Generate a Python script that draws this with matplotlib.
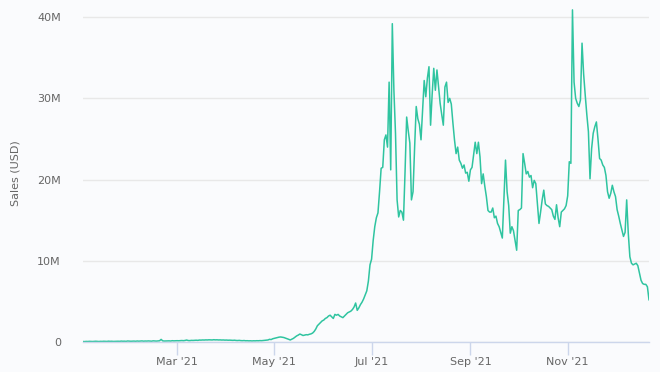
import matplotlib
matplotlib.use("Agg")
import matplotlib.pyplot as plt
import matplotlib.dates as mdates
import matplotlib.ticker as mticker
import pandas as pd
import numpy as np

# Daily sales in millions USD, 2021-01-01 .. 2021-12-22
jan = [0.06,0.05,0.07,0.06,0.08,0.07,0.06,0.08,0.09,0.07,0.06,0.08,0.07,0.09,0.08,0.07,
       0.1,0.08,0.09,0.07,0.08,0.1,0.09,0.08,0.11,0.09,0.1,0.08,0.12,0.1,0.09]
feb = [0.1,0.11,0.09,0.12,0.1,0.11,0.13,0.1,0.12,0.11,0.13,0.12,0.1,0.14,0.12,0.11,0.13,
       0.15,0.32,0.14,0.12,0.13,0.15,0.14,0.12,0.16,0.14,0.15]
mar = [0.16,0.15,0.17,0.18,0.16,0.19,0.24,0.18,0.17,0.2,0.19,0.21,0.22,0.2,0.24,0.23,0.25,
       0.24,0.26,0.25,0.27,0.26,0.25,0.28,0.26,0.27,0.25,0.26,0.24,0.25,0.23]
apr = [0.24,0.22,0.23,0.21,0.2,0.22,0.19,0.18,0.2,0.17,0.16,0.18,0.15,0.16,0.14,0.15,0.13,
       0.15,0.14,0.16,0.15,0.17,0.16,0.18,0.2,0.22,0.25,0.33,0.3,0.4]
may = [0.45,0.5,0.55,0.6,0.62,0.58,0.55,0.48,0.4,0.33,0.25,0.35,0.45,0.6,0.75,0.85,0.98,
       0.9,0.8,0.85,0.9,0.88,0.95,1.0,1.1,1.3,1.6,2.0,2.2,2.4,2.6]
jun = [2.7,2.9,3.0,3.2,3.3,3.1,2.9,3.4,3.3,3.4,3.2,3.1,3.0,3.2,3.4,3.6,3.7,3.8,4.0,4.3,
       4.8,3.9,4.2,4.6,4.9,5.3,5.8,6.3,7.5,9.5]
jul = [10.2,12.5,14.2,15.3,15.9,18.5,21.4,21.5,24.9,25.5,24.0,32.0,21.2,39.2,31.0,25.7,
       17.5,15.4,16.2,16.0,15.0,21.0,27.7,26.0,24.5,17.5,18.5,24.0,29.0,27.5,26.8]
aug = [24.9,28.5,32.2,30.2,32.5,33.9,26.7,30.5,33.7,31.0,33.5,31.5,29.4,28.0,26.7,31.4,
       32.0,29.5,30.0,29.3,27.0,24.9,23.2,24.0,22.4,22.0,21.4,21.8,20.8,20.9,19.8]
sep = [21.2,21.5,23.0,24.6,23.2,24.6,22.8,19.5,20.7,19.2,17.9,16.2,16.0,16.0,16.5,15.3,
       15.5,14.6,14.2,13.5,12.8,17.5,22.4,18.5,16.8,13.4,14.2,13.7,12.5,11.3]
oct_ = [16.2,16.3,16.5,23.2,22.0,20.7,21.0,20.3,20.5,19.0,19.9,19.5,17.0,14.6,16.0,17.5,
        18.7,17.0,16.8,16.7,16.5,16.3,15.5,15.1,16.9,15.3,14.2,16.0,16.2,16.4,16.8]
nov = [18.0,22.2,22.0,40.9,32.0,30.0,29.4,29.0,29.8,36.8,33.0,30.4,28.0,25.9,20.1,23.8,
       25.7,26.5,27.1,25.0,22.6,22.4,21.8,21.5,20.5,18.5,17.7,18.3,19.3,18.5]
dec = [17.9,16.3,15.5,14.6,13.8,13.0,13.5,17.5,13.4,10.5,9.7,9.5,9.6,9.7,9.4,8.5,7.6,
       7.2,7.1,7.1,6.8,5.2]

values = np.array(jan + feb + mar + apr + may + jun + jul + aug + sep + oct_ + nov + dec) * 1e6
dates = pd.date_range("2021-01-01", periods=len(values), freq="D")

y_ticks = [0, 10e6, 20e6, 30e6, 40e6]
y_tick_labels = ["0", "10M", "20M", "30M", "40M"]
x_tick_dates = pd.to_datetime(["2021-03-01", "2021-05-01", "2021-07-01", "2021-09-01", "2021-11-01"])
x_tick_labels = ["Mar '21", "May '21", "Jul '21", "Sep '21", "Nov '21"]

bg = "#fafbfd"
fig = plt.figure(figsize=(6.6, 3.72), dpi=100, facecolor=bg)
ax = fig.add_axes([83/660, 1 - 342/372, (649 - 83)/660, 337/372])
ax.set_facecolor(bg)

ax.plot(dates, values, color="#2fc4a0", linewidth=1.1, solid_joinstyle="round")

ax.set_xlim(dates[0], dates[-1])
ax.set_ylim(0, 41.5e6)
ax.set_yticks(y_ticks)
ax.set_yticklabels(y_tick_labels)
ax.set_xticks(x_tick_dates)
ax.set_xticklabels(x_tick_labels)

ax.grid(axis="y", color="#e8e8e8", linewidth=1)
ax.set_axisbelow(True)
for s in ["top", "right", "left"]:
    ax.spines[s].set_visible(False)
ax.spines["bottom"].set_color("#ccd6eb")
ax.spines["bottom"].set_linewidth(1)

ax.tick_params(axis="y", length=0, pad=16, labelsize=8, labelcolor="#666666")
ax.tick_params(axis="x", length=9, width=1, color="#ccd6eb", pad=2, labelsize=8, labelcolor="#666666")

ax.set_ylabel("Sales (USD)", fontsize=8, color="#666666", labelpad=12)

fig.savefig("out.png", dpi=100, facecolor=bg)
